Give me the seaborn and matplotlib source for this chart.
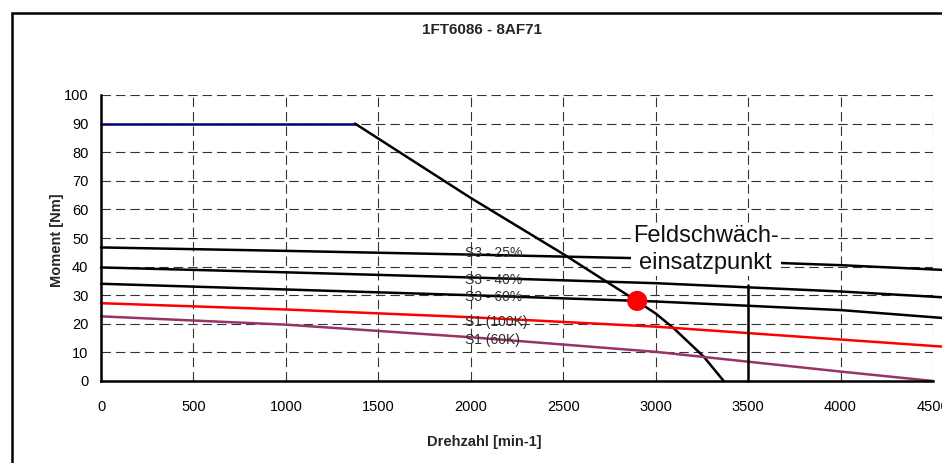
import matplotlib
matplotlib.use("Agg")
import matplotlib.pyplot as plt
from matplotlib.patches import Rectangle
import seaborn as sns

# Torque / speed characteristic of motor 1FT6086 - 8AF71
title = "1FT6086 - 8AF71"
x_label = "Drehzahl [min-1]"
y_label = "Moment [Nm]"

# Maximum torque (flat part) and field-weakening limit curve
mmax_speed = [0, 1374]
mmax_torque = [90, 90]
limit_speed = [1374, 2000, 2500, 2720, 2900, 3000, 3100, 3260, 3368]
limit_torque = [90, 64.0, 44.4, 35.3, 27.9, 23.6, 18.3, 8.5, 0]

# Duty-cycle curves
curve_speed = [0, 1000, 2000, 3000, 4000, 4600]
s3_25 = [46.7, 45.5, 44.2, 42.8, 40.5, 38.7]
s3_40 = [39.7, 38.0, 36.2, 34.2, 31.3, 29.1]
s3_60 = [34.0, 32.0, 30.0, 27.8, 24.8, 21.8]
s1_100k = [27.2, 25.0, 22.3, 19.0, 14.5, 11.8]
s1_60k_speed = [0, 1000, 2000, 3000, 4000, 4500]
s1_60k = [22.6, 19.7, 15.3, 10.2, 3.3, 0.0]

curve_labels = ["S3 - 25%", "S3 - 40%", "S3 - 60%", "S1 (100K)", "S1 (60K)"]
label_torque = [44.9, 35.3, 29.5, 20.7, 14.3]
label_speed = 1969

# Field-weakening onset point and rated-speed marker
fw_speed = [2900]
fw_torque = [28]
fw_text = "Feldschwäch-\neinsatzpunkt"
rated_speed = [3500, 3500]
rated_torque = [0, 33.6]

x_ticks = list(range(0, 4501, 500))
y_ticks = list(range(0, 101, 10))

sns.set_theme(style="white")
plt.rcParams["font.family"] = ["Liberation Sans", "DejaVu Sans"]

W, H = 942, 463
fig = plt.figure(figsize=(W / 100, H / 100), dpi=100)
fig.patch.set_facecolor("white")

ax = fig.add_axes([101 / W, (H - 381) / H, (933 - 101) / W, (381 - 95) / H])
ax.set_facecolor("white")

lw = 1.8
line_kw = dict(lw=lw, ax=ax, clip_on=False, zorder=3, sort=False, estimator=None)
sns.lineplot(x=mmax_speed, y=mmax_torque, color="#000080", **line_kw)
sns.lineplot(x=limit_speed, y=limit_torque, color="black", **line_kw)
for ys in (s3_25, s3_40, s3_60):
    sns.lineplot(x=curve_speed, y=ys, color="black", **line_kw)
sns.lineplot(x=curve_speed, y=s1_100k, color="#FF0000", **line_kw)
sns.lineplot(x=s1_60k_speed, y=s1_60k, color="#993366", **line_kw)
sns.lineplot(x=rated_speed, y=rated_torque, color="black", **line_kw)

for txt, yv in zip(curve_labels, label_torque):
    ax.text(label_speed, yv, txt, fontsize=10, color="#303030",
            ha="left", va="center", zorder=4)

ax.text(3270, 46, fw_text, fontsize=17, ha="center", va="center",
        linespacing=1.3, color="#111111", zorder=5,
        bbox=dict(facecolor="white", edgecolor="none", pad=1.5))

sns.scatterplot(x=fw_speed, y=fw_torque, color="#FF0000", s=210,
                edgecolor="none", ax=ax, zorder=6, clip_on=False)

ax.set_xlim(0, 4500)
ax.set_ylim(0, 100)
ax.set_xticks(x_ticks)
ax.set_yticks(y_ticks)
ax.set_xticklabels([str(v) for v in x_ticks])
ax.set_yticklabels([str(v) for v in y_ticks])
ax.tick_params(axis="both", labelsize=10.5, colors="black", direction="out",
               length=4, width=1.5)
ax.tick_params(axis="x", pad=10)
ax.tick_params(axis="y", pad=5)
for lab in ax.get_xticklabels():
    lab.set_clip_on(False)

ax.grid(True, color="#333333", lw=0.8, linestyle=(0, (8.5, 4.5)))
ax.set_axisbelow(True)
for side in ("top", "right"):
    ax.spines[side].set_visible(False)
for side in ("left", "bottom"):
    ax.spines[side].set_color("black")
    ax.spines[side].set_linewidth(1.8)
    ax.spines[side].set_zorder(4)
ax.set_xlabel("")
ax.set_ylabel("")

fig.text(482 / W, 1 - 30 / H, title, fontsize=11, fontweight="bold",
         ha="center", va="center")
fig.text(484 / W, 1 - 442 / H, x_label, fontsize=10.5, fontweight="bold",
         ha="center", va="center")
fig.text(57 / W, 1 - 240 / H, y_label, fontsize=10.5, fontweight="bold",
         ha="center", va="center", rotation=90)

# chart frame (open towards right and bottom)
fig.add_artist(Rectangle((12 / W, -0.2), 1.2, 1.2 - 12.5 / H,
                         transform=fig.transFigure, fill=False,
                         edgecolor="black", lw=1.8))

fig.savefig("out.png", dpi=100, facecolor="white")
